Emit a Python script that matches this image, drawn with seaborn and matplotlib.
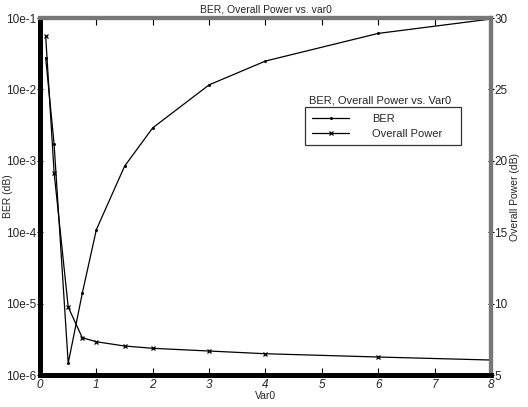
#!/usr/bin/env python3
"""BER and overall power versus Var0 on twin axes."""

import matplotlib
matplotlib.use("Agg")
import matplotlib.pyplot as plt
import pandas as pd
import seaborn as sns

# values
var0 = [0.1, 0.25, 0.5, 0.75, 1, 1.5, 2, 3, 4, 6, 8]
ber = [2.8e-2, 1.7e-3, 1.46e-6, 1.4e-5, 1.09e-4, 8.4e-4, 2.9e-3, 1.16e-2, 2.5e-2, 6.1e-2, 9.7e-2]
power_db = [28.76, 19.17, 9.76, 7.61, 7.33, 7.03, 6.87, 6.68, 6.49, 6.26, 6.05]

ber_ticks = [1e-1, 1e-2, 1e-3, 1e-4, 1e-5, 1e-6]
ber_tick_labels = ["10e-1", "10e-2", "10e-3", "10e-4", "10e-5", "10e-6"]
power_ticks = [5, 10, 15, 20, 25, 30]
x_ticks = [0, 1, 2, 3, 4, 5, 6, 7, 8]


def main() -> None:
    sns.set_style("white")
    plt.rcParams["font.family"] = ["Liberation Sans", "DejaVu Sans"]

    df = pd.DataFrame({"var0": var0, "ber": ber, "power": power_db})

    fig = plt.figure(figsize=(5.28, 4.07), dpi=100)
    ax = fig.add_axes([0.0758, 0.0786, 0.854, 0.877])
    ax2 = ax.twinx()

    sns.lineplot(data=df, x="var0", y="ber", ax=ax, color="black", lw=0.9,
                 marker="o", markersize=1.4, mec="black", mfc="black",
                 label="BER", legend=False)
    sns.lineplot(data=df, x="var0", y="power", ax=ax2, color="black", lw=0.9,
                 marker="x", markersize=3.5, mew=0.9, mec="black",
                 label="Overall Power", legend=False)

    ax.set_yscale("log")
    ax.set_ylim(1e-6, 1e-1)
    ax.set_xlim(0, 8)
    ax2.set_ylim(5, 30)
    ax.set_xticks(x_ticks)
    ax.set_xticklabels([str(t) for t in x_ticks], fontstyle="italic", fontsize=8.5)
    ax.set_yticks(ber_ticks)
    ax.set_yticklabels(ber_tick_labels, fontsize=8.5)
    ax.minorticks_off()
    ax2.set_yticks(power_ticks)
    ax2.set_yticklabels([str(t) for t in power_ticks], fontsize=8.5)

    ax.tick_params(axis="x", direction="in", length=5, width=0.8, color="black",
                   top=True, bottom=True, pad=3)
    ax.tick_params(axis="y", direction="inout", length=5, width=0.8, color="black",
                   left=True, pad=0)
    ax2.tick_params(axis="y", direction="inout", length=5, width=0.8, color="black",
                    right=True, pad=0)

    for a in (ax, ax2):
        a.spines["left"].set_linewidth(3.5)
        a.spines["left"].set_color("black")
        a.spines["bottom"].set_linewidth(3.5)
        a.spines["bottom"].set_color("black")
        a.spines["top"].set_linewidth(3)
        a.spines["top"].set_color("#777777")
        a.spines["right"].set_linewidth(3)
        a.spines["right"].set_color("#777777")

    ax.set_xlabel("Var0", fontsize=7.5, labelpad=0)
    ax.set_ylabel("BER (dB)", fontsize=7.5)
    ax.yaxis.set_label_coords(-0.06, 0.5)
    ax2.set_ylabel("Overall Power (dB)", fontsize=7.5)
    ax2.yaxis.set_label_coords(1.042, 0.5)
    ax.set_title("BER, Overall Power vs. var0", fontsize=7.5, pad=4)

    h1, l1 = ax.get_legend_handles_labels()
    h2, l2 = ax2.get_legend_handles_labels()
    leg = ax2.legend(h1 + h2, l1 + l2, loc="upper left",
                     bbox_to_anchor=(0.5876, 0, 0.346, 0.7507), mode="expand",
                     fontsize=8, frameon=True, fancybox=False, edgecolor="black",
                     handlelength=3.4, borderpad=0.6, labelspacing=0.45,
                     handletextpad=2.0, borderaxespad=0)
    leg.get_frame().set_linewidth(0.9)
    ax2.text(0.754, 0.77, "BER, Overall Power vs. Var0", transform=ax2.transAxes,
             fontsize=8, ha="center", va="center")

    fig.savefig("out.png", dpi=100)
    plt.close(fig)


if __name__ == "__main__":
    main()
